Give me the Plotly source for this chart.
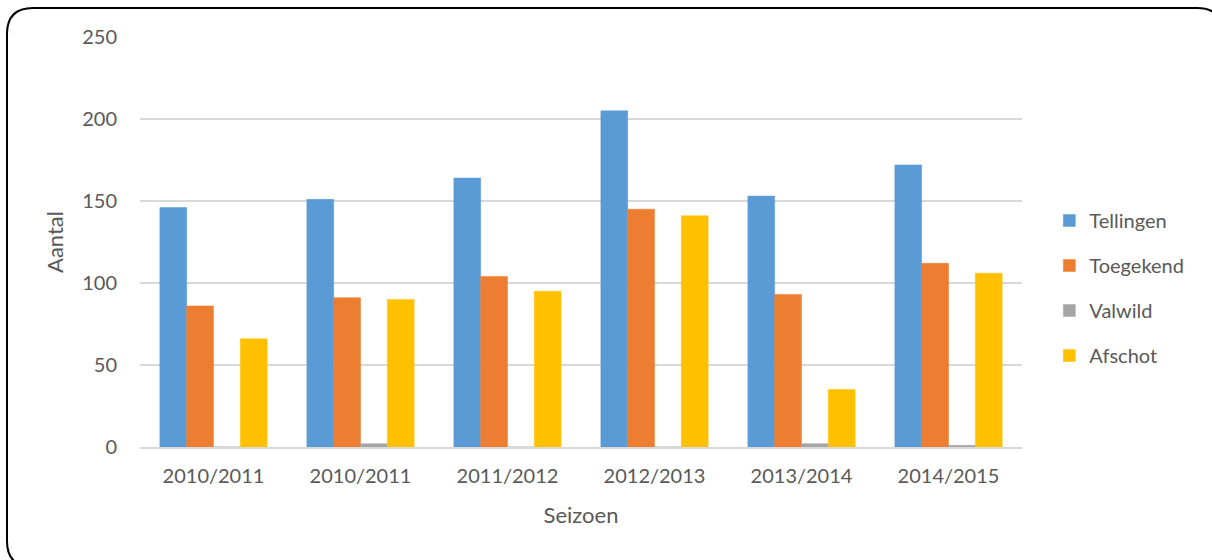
import plotly.graph_objects as go

# Seasons (the first label appears twice on the axis)
seasons = ["2010/2011", "2010/2011", "2011/2012", "2012/2013", "2013/2014", "2014/2015"]
tellingen = [146, 151, 164, 205, 153, 172]
toegekend = [86, 91, 104, 145, 93, 112]
valwild = [0, 2, 0, 0, 2, 1]
afschot = [66, 90, 95, 141, 35, 106]

series = [
    ("Tellingen", tellingen, "#5B9BD5"),
    ("Toegekend", toegekend, "#ED7D31"),
    ("Valwild", valwild, "#A5A5A5"),
    ("Afschot", afschot, "#FFC000"),
]

positions = list(range(len(seasons)))
FONT = "Lato, 'Open Sans', sans-serif"

fig = go.Figure()
for name, vals, color in series:
    fig.add_trace(go.Bar(
        x=positions, y=vals, name=name, legendgroup=name,
        marker=dict(color=color, line=dict(color=color, width=0.5)),
    ))

W, H = 1212, 560
L, R, T, B = 140, 190, 37, 113
pw, ph = W - L - R, H - T - B


def px(x):
    return (x - L) / pw


def py(y):
    return (H - B - y) / ph


# Rounded frame around the whole chart
x0, x1, y0, y1, r = 7, 1223, 8, 567, 26
frame = (
    f"M {px(x0)} {py(y0 + r)} Q {px(x0)} {py(y0)} {px(x0 + r)} {py(y0)} "
    f"L {px(x1 - r)} {py(y0)} Q {px(x1)} {py(y0)} {px(x1)} {py(y0 + r)} "
    f"L {px(x1)} {py(y1 - r)} Q {px(x1)} {py(y1)} {px(x1 - r)} {py(y1)} "
    f"L {px(x0 + r)} {py(y1)} Q {px(x0)} {py(y1)} {px(x0)} {py(y1 - r)} Z"
)

fig.update_layout(
    width=W, height=H,
    margin=dict(l=L, r=R, t=T, b=B),
    paper_bgcolor="white", plot_bgcolor="white",
    barmode="group", bargap=0.27, bargroupgap=0,
    font=dict(family=FONT, color="#595959", size=20),
    shapes=[dict(type="path", path=frame, xref="paper", yref="paper",
                 line=dict(color="black", width=2), layer="above")],
    legend=dict(x=1.031, y=0.6, xanchor="left", yanchor="top",
                font=dict(size=20, color="#595959"),
                tracegroupgap=16, bgcolor="rgba(0,0,0,0)"),
    xaxis=dict(
        tickmode="array", tickvals=positions, ticktext=seasons,
        range=[-0.5, len(seasons) - 0.5],
        showgrid=False, showline=True, linecolor="#D9D9D9", linewidth=2,
        ticks="", ticklabelstandoff=10,
        tickfont=dict(size=20, color="#595959"),
        title=dict(text="Seizoen", font=dict(size=22, color="#595959"), standoff=22),
    ),
    yaxis=dict(
        range=[0, 250], tickvals=[0, 50, 100, 150, 200, 250],
        showgrid=True, gridcolor="#D9D9D9", gridwidth=1.5,
        zeroline=False, showline=False, ticks="", ticklabelstandoff=22,
        tickfont=dict(size=20, color="#595959"),
        title=dict(text="Aantal", font=dict(size=22, color="#595959"), standoff=12),
    ),
)

fig.write_html("out.html")
